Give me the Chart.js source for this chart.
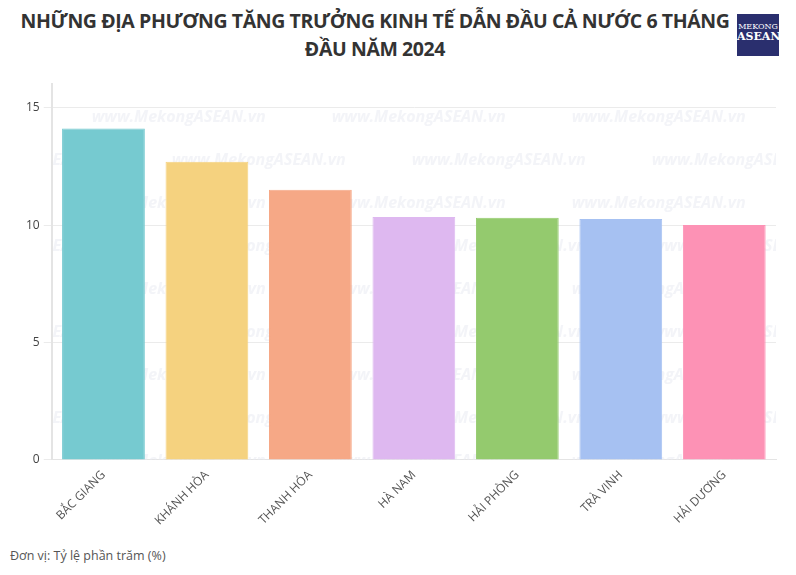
<!DOCTYPE html>
<html>
<head>
<meta charset="utf-8">
<script src="https://cdn.jsdelivr.net/npm/chart.js@4.4.1/dist/chart.umd.min.js"></script>
<style>
  body { margin: 0; width: 796px; height: 575px; background: #fff; position: relative; overflow: hidden; font-family: "Open Sans", sans-serif; }
  #title { position: absolute; top: 7px; left: 0; width: 750px; text-align: center; font-family: "Open Sans", sans-serif; font-weight: 700; font-size: 19.5px; line-height: 28px; color: #333; letter-spacing: -0.4px; }
  #logo { position: absolute; left: 737px; top: 14px; width: 42px; height: 42px; background: #2a2f6e; color: #fff; font-family: "DejaVu Serif", serif; text-align: center; }
  #logo .a { font-size: 8px; margin-top: 8px; line-height: 9px; }
  #logo .b { font-size: 11px; font-weight: 700; line-height: 12px; }
  #wrap { position: absolute; left: 0; top: 73px; width: 796px; height: 457px; }
  #unit { position: absolute; left: 10px; top: 547px; font-size: 12.5px; color: #555; }
</style>
</head>
<body>
<div id="title">NHỮNG ĐỊA PHƯƠNG TĂNG TRƯỞNG KINH TẾ DẪN ĐẦU CẢ NƯỚC 6 THÁNG<br>ĐẦU NĂM 2024</div>
<div id="logo"><div class="a">MEKONG</div><div class="b">ASEAN</div></div>
<div id="wrap"><canvas id="chart"></canvas></div>
<div id="unit">Đơn vị: Tỷ lệ phần trăm (%)</div>
<script>
const provinces = ["BẮC GIANG", "KHÁNH HÒA", "THANH HÓA", "HÀ NAM", "HẢI PHÒNG", "TRÀ VINH", "HẢI DƯƠNG"];
const growth = [14.11, 12.7, 11.5, 10.34, 10.31, 10.26, 10.0];
const barColors = ["#76CAD0", "#F5D27F", "#F6A886", "#DEB8F0", "#94CA6E", "#A6C1F2", "#FD92B5"];
const yTicks = [0, 5, 10, 15];

const watermark = {
  id: "watermark",
  beforeDatasetsDraw(chart) {
    const ctx = chart.ctx;
    const a = chart.chartArea;
    ctx.save();
    ctx.beginPath();
    ctx.rect(a.left, a.top, a.right - a.left, a.bottom - a.top);
    ctx.clip();
    ctx.font = "italic bold 16px 'Open Sans', sans-serif";
    ctx.fillStyle = "rgba(232,234,242,0.5)";
    for (let r = 0; r < 9; r++) {
      const y = a.top + 38 + r * 43;
      const off = (r % 2) ? 120 : 40;
      for (let x = a.left + off - 240; x < a.right; x += 240) {
        ctx.fillText("www.MekongASEAN.vn", x, y);
      }
    }
    ctx.restore();
  }
};

new Chart(document.getElementById("chart"), {
  type: "bar",
  data: {
    labels: provinces,
    datasets: [{
      data: growth,
      backgroundColor: barColors,
      borderColor: barColors,
      borderWidth: 1,
      barPercentage: 0.8,
      categoryPercentage: 1.0
    }]
  },
  options: {
    responsive: true,
    maintainAspectRatio: false,
    animation: false,
    layout: { padding: { left: 22, right: 20, top: 0, bottom: 0 } },
    plugins: {
      legend: { display: false },
      tooltip: { enabled: false }
    },
    scales: {
      y: {
        min: 0,
        max: 16,
        afterBuildTicks(axis) { axis.ticks = yTicks.map(v => ({ value: v })); },
        grid: { color: "#ebebeb", drawTicks: true, tickLength: 8 },
        border: { display: true, color: "#e4e4e4", width: 2 },
        ticks: { color: "#444", font: { family: "Open Sans", size: 12 }, padding: 4 }
      },
      x: {
        grid: { display: false, drawOnChartArea: false, drawTicks: true, tickLength: 6, color: "#e4e4e4" },
        border: { display: true, color: "#e4e4e4", width: 1 },
        ticks: { color: "#555", font: { family: "Open Sans", size: 12 }, maxRotation: 45, minRotation: 45, padding: 2 }
      }
    }
  },
  plugins: [watermark]
});
</script>
</body>
</html>
